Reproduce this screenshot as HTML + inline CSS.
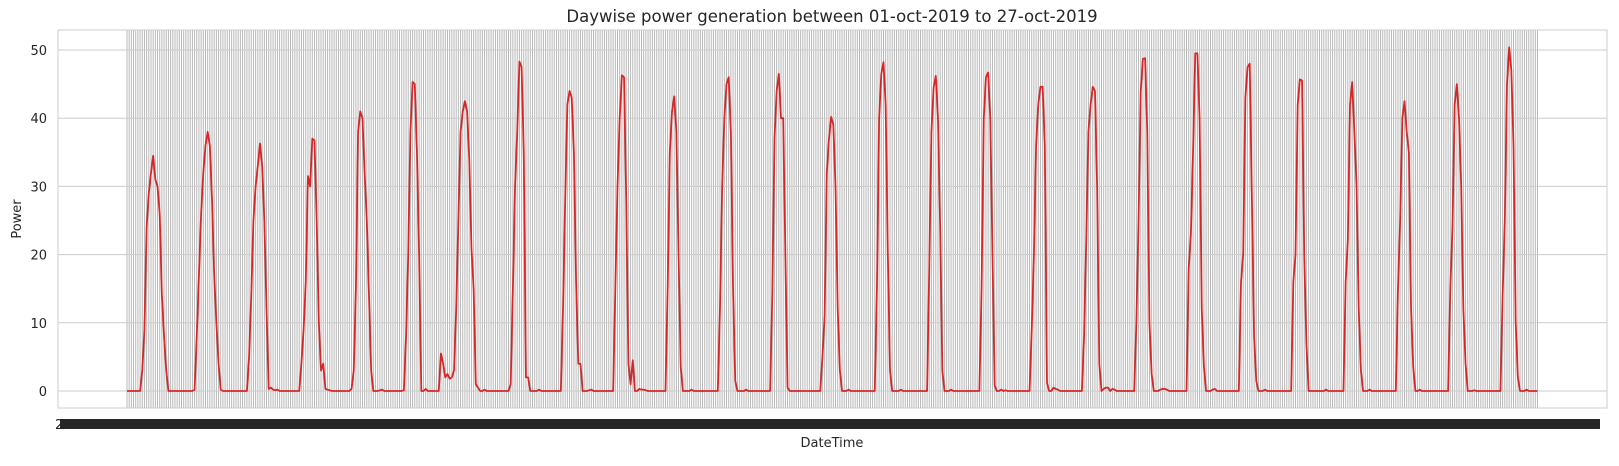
<!DOCTYPE html>
<html><head><meta charset="utf-8"><style>
html,body{margin:0;padding:0;background:#fff;}
svg text{font-family:"DejaVu Sans","Liberation Sans",sans-serif;fill:#262626;}
</style></head><body>
<svg id="chart" width="1619" height="461" xmlns="http://www.w3.org/2000/svg">
<rect x="0" y="0" width="1619" height="461" fill="#fff"/>
<g id="grid-v"></g>
<g id="grid-h"></g>
<rect x="58" y="30" width="1549" height="378" fill="none" stroke="#cccccc" stroke-width="1"/>
<path id="line" fill="none" stroke="#d62728" stroke-width="1.8" stroke-linejoin="round"/>
<g id="yticks"></g>
<rect x="60" y="419" width="1540" height="10" fill="#262626"/>
<text x="55" y="429" font-size="13">2019-10-01</text>
<text x="832" y="22" font-size="16.5" text-anchor="middle">Daywise power generation between 01-oct-2019 to 27-oct-2019</text>
<text x="832" y="447" font-size="13" text-anchor="middle">DateTime</text>
<text x="21" y="219" font-size="13" text-anchor="middle" transform="rotate(-90 21 219)">Power</text>
</svg>
<script>
const yTicks=[0,10,20,30,40,50];
const day01=[0,0,0,0,0,0,0,3,9,24,29,32,34.5,31,30,26,14,8,3,0,0,0,0,0];
const day02=[0,0,0,0,0,0,0,0.2,8,17,26,32,36,38,36,28,17,10,4,0.2,0,0,0,0];
const day03=[0,0,0,0,0,0,0,0,5,14,25,30,33,36.3,33,25,12,0.3,0.5,0.2,0.1,0.2,0,0];
const day04=[0,0,0,0,0,0,0,0,4,9,16,31.5,30,37,36.7,25,10,3,4,0.3,0.2,0.1,0,0];
const day05=[0,0,0,0,0,0,0,0.3,3,15,38,41,40,32,25,14,3,0,0,0,0.1,0.2,0,0];
const day06=[0,0,0,0,0,0,0,0.1,8,20,38,45.3,45,35,20,0,0,0.3,0,0,0,0,0,0];
const day07=[5.5,4,2,2.5,1.8,2,3,12,25,38,41,42.5,41,34,21,15,1,0.5,0,0,0.2,0,0,0];
const day08=[0,0,0,0,0,0,0,0,1,15,30,38,48.3,47.5,35,2,2,0,0,0,0,0.2,0,0];
const day09=[0,0,0,0,0,0,0,0,12,28,42,44,43,35,16,4,4,0,0,0,0.1,0.2,0,0];
const day10=[0,0,0,0,0,0,0,0,15,30,40,46.3,46,28,4,1,4.5,0,0,0.3,0.2,0.2,0.1,0];
const day11=[0,0,0,0,0,0,0,0,15,35,41,43.2,38,20,3.5,0,0,0,0,0.2,0,0,0,0];
const day12=[0,0,0,0,0,0,0,0,12,30,40,45,46,38,15,1.5,0,0,0,0,0.2,0,0,0];
const day13=[0,0,0,0,0,0,0,0,14,37,44,46.5,40,40,20,0.5,0,0,0,0,0,0,0,0];
const day14=[0,0,0,0,0,0,0,5,11,32,37,40.2,39,30,12,3,0,0,0,0.2,0,0,0,0];
const day15=[0,0,0,0,0,0,0,0,15,40,46.5,48.2,42,20,3,0,0,0,0,0.2,0,0,0,0];
const day16=[0,0,0,0,0,0,0,0,18,38,44.5,46.2,40,24,3,0,0,0,0.2,0,0,0,0,0];
const day17=[0,0,0,0,0,0,0,0,15,40,46,46.7,40,20,0.8,0,0,0.2,0,0.1,0,0,0,0];
const day18=[0,0,0,0,0,0,0,9,20,36,42,44.6,44.6,36,1.2,0,0,0.5,0.3,0.2,0,0,0,0];
const day19=[0,0,0,0,0,0,0,8,22,38,42,44.6,44,30,4,0,0.3,0.5,0.5,0,0.3,0.2,0,0];
const day20=[0,0,0,0,0,0,0,10,25,44,48.7,48.8,38,10,2.5,0,0,0,0.2,0.3,0.3,0.2,0,0];
const day21=[0,0,0,0,0,0,0,18,23,35,49.5,49.5,40,12,3.5,0,0,0,0.2,0.3,0,0,0,0];
const day22=[0,0,0,0,0,0,0,16,20,43,47.5,48,28,8,1.5,0,0,0,0.2,0,0,0,0,0];
const day23=[0,0,0,0,0,0,0,16,20,42,45.7,45.5,20,7,0,0,0,0,0,0,0,0,0.2,0];
const day24=[0,0,0,0,0,0,0,16,22,42,45.3,38,30,12,3,0,0,0,0.2,0,0,0,0,0];
const day25=[0,0,0,0,0,0,0,15,25,40,42.5,38,35,12,3.5,0,0,0.2,0,0,0,0,0,0];
const day26=[0,0,0,0,0,0,0,15,24,42,45,40,30,12,4,0,0,0,0.1,0,0,0,0,0];
const day27=[0,0,0,0,0,0,0,14,25,45,50.4,47,36,10,2,0,0,0,0.2,0,0,0,0,0];
const power=[].concat(day01,day02,day03,day04,day05,day06,day07,day08,day09,day10,day11,day12,day13,day14,day15,day16,day17,day18,day19,day20,day21,day22,day23,day24,day25,day26,day27);

const NS="http://www.w3.org/2000/svg";
const x0=127,x1=1537.5;
function xs(i){return x0+i*(x1-x0)/(power.length-1);}
function ys(v){return 391-v*(391-50)/50;}

const gv=document.getElementById('grid-v');
for(let i=0;i<power.length;i++){
  const l=document.createElementNS(NS,'line');
  
  
  const x=xs(i);
  l.setAttribute('x1',x);l.setAttribute('x2',x);l.setAttribute('y1',30);l.setAttribute('y2',408);
  l.setAttribute('stroke','#b8b8b8');l.setAttribute('stroke-width','1');
  gv.appendChild(l);
}
const gh=document.getElementById('grid-h');
const yt=document.getElementById('yticks');
yTicks.forEach(t=>{
  const l=document.createElementNS(NS,'line');
  
  
  l.setAttribute('x1',58);l.setAttribute('x2',1607);l.setAttribute('y1',ys(t));l.setAttribute('y2',ys(t));
  l.setAttribute('stroke','#cccccc');l.setAttribute('stroke-width','1');
  gh.appendChild(l);
  const tx=document.createElementNS(NS,'text');
  
  
  tx.setAttribute('x',47);tx.setAttribute('y',ys(t)+5);
  tx.setAttribute('text-anchor','end');tx.setAttribute('font-size','13');
  tx.textContent=t;
  yt.appendChild(tx);
});
let d='';
power.forEach((v,i)=>{d+=(i?'L':'M')+xs(i).toFixed(2)+','+ys(v).toFixed(2);});
document.getElementById('line').setAttribute('d',d);
</script>
</body></html>
